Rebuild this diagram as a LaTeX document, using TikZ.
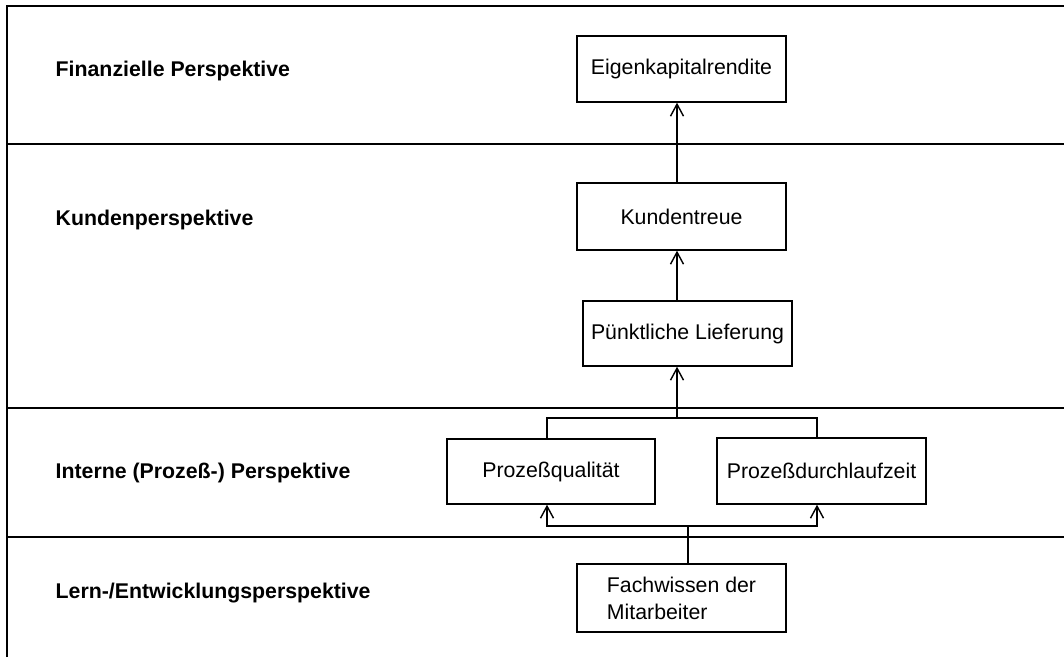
\documentclass[tikz,border=0pt]{standalone}
\usepackage{fontspec}
\setmainfont{Liberation Sans}
\usetikzlibrary{arrows.meta}
\begin{document}
\begin{tikzpicture}[x=1pt,y=-1pt,line width=1.4pt,
  lab/.style={anchor=west, font=\fontsize{21.3}{26}\selectfont\bfseries, inner sep=0pt},
  box/.style={draw, line width=1.4pt, minimum width=209pt, minimum height=66pt, inner sep=0pt,
              font=\fontsize{21.3}{27}\selectfont, align=left},
  arr/.style={-{Straight Barb[length=12pt,width=13pt,line width=1.4pt]}}]
\useasboundingbox (0,0) rectangle (1064,657);
% frame and separators
\draw (7,657) -- (7,6) -- (1064,6);
\draw (7,144) -- (1064,144);
\draw (7,408) -- (1064,408);
\draw (7,537) -- (1064,537);
% perspective labels
\node[lab] (l1) at (55,71) {Finanzielle Perspektive};
\node[lab] (l2) at (55,220) {Kundenperspektive};
\node[lab] (l3) at (55,473) {Interne (Prozeß-) Perspektive};
\node[lab] (l4) at (55,593) {Lern-/Entwicklungsperspektive};
% boxes
\node[box] (eig) at (681.5,69) {Eigenkapitalrendite};
\node[box, minimum height=67pt] (kt) at (681.5,216.5) {Kundentreue};
\node[box, minimum height=65pt] (pl) at (687.5,333.5) {Pünktliche Lieferung};
\node[box, minimum width=208pt, minimum height=65pt] (pq) at (551,471.5) {Prozeßqualität};
\node[box] (pd) at (821.5,471) {Prozeßdurchlaufzeit};
\node[box, minimum height=68pt] (fw) at (681.5,598) {Fachwissen der\\Mitarbeiter};
% connectors
\coordinate (ax) at (677,0);
\coordinate (lx) at (547,0);
\coordinate (rx) at (817,0);
\coordinate (j1) at (677,418);
\coordinate (j2) at (688,526);
\draw[arr] (kt.north -| ax) -- (eig.south -| ax);
\draw[arr] (pl.north -| ax) -- (kt.south -| ax);
\draw (pq.north -| lx) |- (j1);
\draw (pd.north -| rx) |- (j1);
\draw[arr] (j1) -- (pl.south -| ax);
\draw (fw.north -| j2) -- (j2);
\draw[arr] (j2) -| (pq.south -| lx);
\draw[arr] (j2) -| (pd.south -| rx);
\end{tikzpicture}
\end{document}
